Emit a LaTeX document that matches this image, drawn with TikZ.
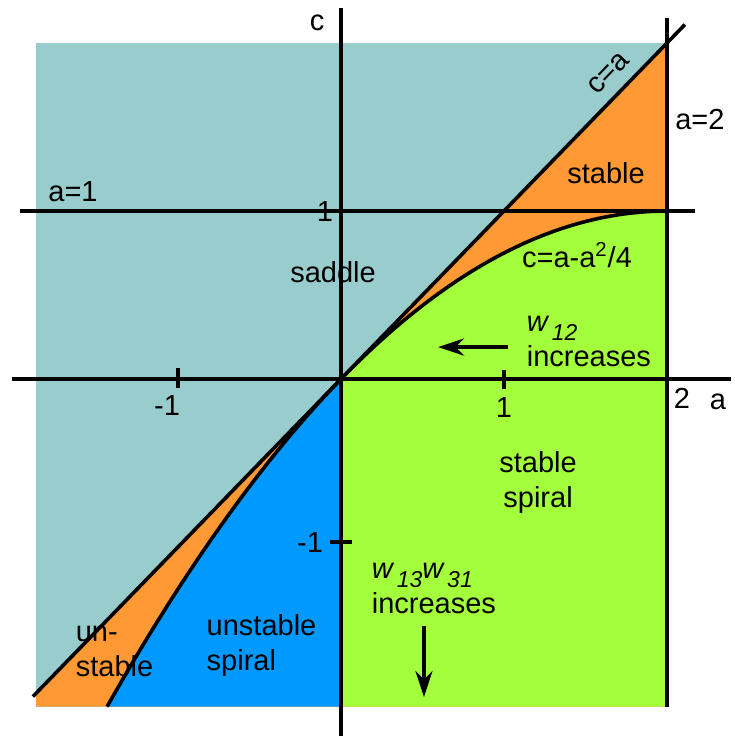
\documentclass[tikz,border=0pt]{standalone}
\usepackage{fontspec}
\setmainfont{Liberation Sans}
\usetikzlibrary{arrows.meta}
\definecolor{saddlecol}{RGB}{153,204,204}
\definecolor{stablecol}{RGB}{255,153,51}
\definecolor{spiralcol}{RGB}{163,255,59}
\definecolor{unspiralcol}{RGB}{0,153,255}
\newcommand{\wsub}[1]{\textit{w}\kern1.2pt\raisebox{-4.5pt}{\fontsize{11.5}{11.5}\selectfont\itshape #1}}
\begin{document}
\begin{tikzpicture}[x=81.5pt, y=84pt, >={Stealth[length=13pt, width=8.5pt]}, line width=1.8pt, every node/.style={font=\fontsize{14.5}{17.5}\selectfont, inner sep=1pt}]
	\useasboundingbox (-170.5pt,-178.5pt) rectangle (197pt,189.5pt);
	\coordinate (O) at (0,0);
	\coordinate (T) at (2,2);
	\coordinate (K) at (2,1);
	
	% 1. 区域填充 (最底层)
	\fill[saddlecol] (-1.87,-1.95) rectangle (T);
	\fill[stablecol] (-1.87,-1.87) -- (T) -- (2,-1.95) -- (-1.87,-1.95) -- cycle;
	\fill[spiralcol] (0,-1.95) -- plot[domain=0:2, samples=50] (\x,{\x-\x*\x/4}) -- (2,-1.95) -- cycle;
	\fill[unspiralcol] (0,-1.95) -- plot[domain=0:-1.435, samples=50] (\x,{\x-\x*\x/4}) -- cycle;
	
	% 2. 坐标轴与直线
	\draw (0,-2.125) -- (0,2.21);
	\draw (-2.02,0) -- (2.39,0);
	\draw (-1.97,1) -- (2.17,1);
	\draw (2,-1.95) -- (2,2.15);
	\draw (-1.89,-1.89) -- (2.11,2.11);
	\draw[domain=-1.435:2, samples=60] plot (\x,{\x-\x*\x/4});
	
	% 3. 刻度
	\draw (-1,-0.055) -- (-1,0.065);
	\draw (1,-0.06) -- (1,0.055);
	\draw (-0.067,-0.97) -- (0.067,-0.97);
	
	% 4. 标号
	\node (clab) at (-0.147,2.119) {c};
	\node (alab) at (2.313,-0.137) {a};
	\node (aone) at (-1.644,1.113) {a=1};
	\node (cone) at (-0.098,0.994) {1};
	\node[rotate=46] (ceqa) at (1.640,1.820) {c=a};
	\node (atwo) at (2.202,1.542) {a=2};
	\node (stab) at (1.626,1.226) {stable};
	\node (sadd) at (-0.049,0.637) {saddle};
	\node (curv) at (1.448,0.738) {c=a-a\textsuperscript{2}/4};
	\node[anchor=west, align=left] (wtw) at (1.117,0.226) {\wsub{12}\\increases};
	\node (mone) at (-1.067,-0.155) {-1};
	\node (pone) at (1.0,-0.167) {1};
	\node (ptwo) at (2.092,-0.113) {2};
	\node[align=center] (stsp) at (1.209,-0.619) {stable\\spiral};
	\node (cmone) at (-0.190,-0.976) {-1};
	\node[anchor=west, align=left] (wth) at (0.166,-1.244) {\wsub{13}\wsub{31}\\increases};
	\node[anchor=west, align=left] (unst) at (-1.650,-1.619) {un-\\stable};
	\node[anchor=west, align=left] (unsp) at (-0.847,-1.589) {unstable\\spiral};
	
	% 5. 箭头
	\coordinate (wtwa) at (1.025,0.19);
	\coordinate (wtwb) at (0.595,0.19);
	\coordinate (wtha) at (0.509,-1.470);
	\coordinate (wthb) at (0.509,-1.893);
	\draw[->] (wtwa) -- (wtwb);
	\draw[->] (wtha) -- (wthb);
\end{tikzpicture}
\end{document}
